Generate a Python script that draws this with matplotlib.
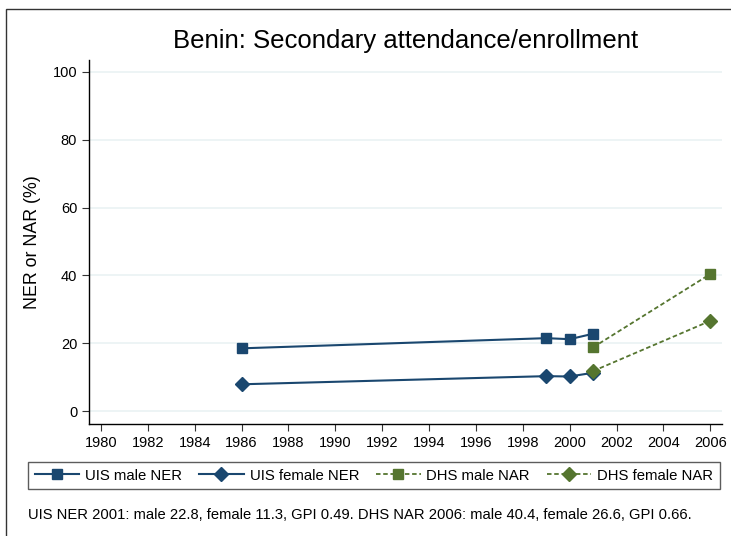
import matplotlib.pyplot as plt
from matplotlib.patches import Rectangle

plt.rcParams['font.family'] = ['Liberation Sans', 'DejaVu Sans']

# --- DATA ---
uis_years = [1986, 1999, 2000, 2001]
uis_male = [18.5, 21.5, 21.2, 22.8]
uis_female = [7.9, 10.3, 10.2, 11.3]
dhs_years = [2001, 2006]
dhs_male = [18.8, 40.4]
dhs_female = [11.8, 26.6]
x_ticks = list(range(1980, 2007, 2))
y_ticks = [0, 20, 40, 60, 80, 100]

NAVY = '#1a476f'
GREEN = '#55752f'
GRID = '#eaf2f3'

fig = plt.figure(figsize=(7.31, 5.36), dpi=100)
ax = fig.add_axes([0.1218, 0.209, 0.8659, 0.679])

# outer frame of the graph region
fig.patches.append(Rectangle((6 / 731, -0.1), 2, 1.1 - 9 / 536, transform=fig.transFigure,
                             fill=False, edgecolor='#333333', linewidth=1.0))

ax.plot(uis_years, uis_male, color=NAVY, marker='s', markersize=7, linewidth=1.5,
        label='UIS male NER')
ax.plot(uis_years, uis_female, color=NAVY, marker='D', markersize=7, linewidth=1.5,
        label='UIS female NER')
ax.plot(dhs_years, dhs_male, color=GREEN, marker='s', markersize=7, linewidth=1.3,
        linestyle=(0, (2.5, 1.5)), label='DHS male NAR')
ax.plot(dhs_years, dhs_female, color=GREEN, marker='D', markersize=7, linewidth=1.3,
        linestyle=(0, (2.5, 1.5)), label='DHS female NAR')

ax.set_xlim(1979.49, 2006.5)
ax.set_ylim(-3.8, 103.5)
ax.set_xticks(x_ticks)
ax.set_yticks(y_ticks)
ax.tick_params(labelsize=10.5, length=5, direction='out', color='#333333')
ax.yaxis.grid(True, color=GRID, linewidth=1.2)
ax.set_axisbelow(True)
for s in ['top', 'right']:
    ax.spines[s].set_visible(False)
ax.spines['left'].set_linewidth(1.0)
ax.spines['bottom'].set_linewidth(1.0)

ax.set_ylabel('NER or NAR (%)', fontsize=12.8, labelpad=8)
ax.set_title('Benin: Secondary attendance/enrollment', fontsize=18.5, pad=9)

leg = fig.legend(loc='upper left', bbox_to_anchor=(28 / 731, 1 - 496 / 536, 692 / 731, 34 / 536),
                 mode='expand', ncol=4, fontsize=10.7, handlelength=3.0, handletextpad=0.4,
                 frameon=True, fancybox=False, edgecolor='#333333', borderaxespad=0,
                 borderpad=0.45)
leg.get_frame().set_linewidth(1.0)

fig.text(28 / 731, 1 - 515 / 536,
         'UIS NER 2001: male 22.8, female 11.3, GPI 0.49. DHS NAR 2006: male 40.4, female 26.6, GPI 0.66.',
         fontsize=10.6, va='center', ha='left')

fig.savefig('out.png', dpi=100)
